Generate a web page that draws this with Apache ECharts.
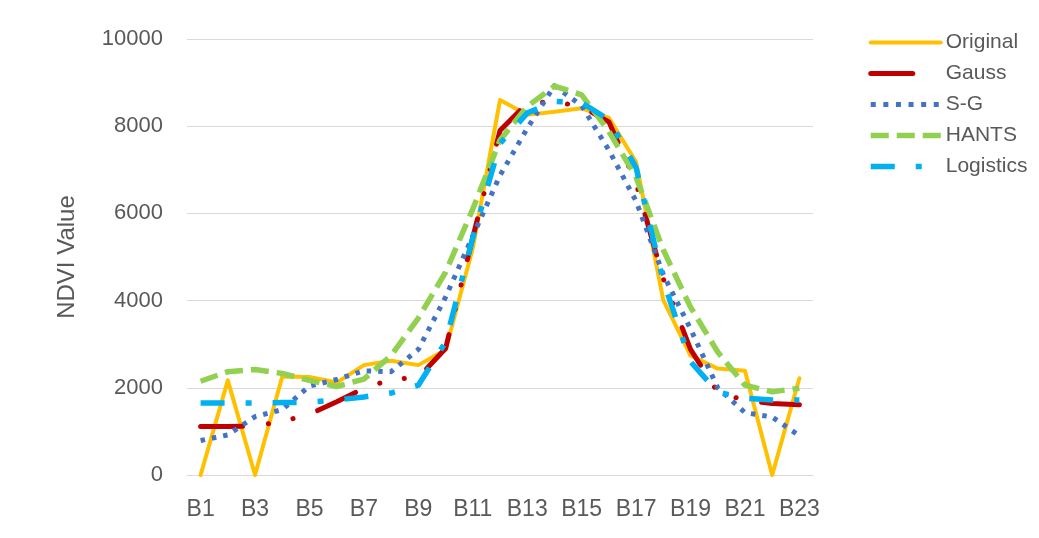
<!DOCTYPE html>
<html lang="en">
<head>
<meta charset="UTF-8">
<title>NDVI</title>
<script src="https://cdn.jsdelivr.net/npm/echarts@6/dist/echarts.min.js"></script>
<style>
    html, body { margin: 0; padding: 0; background: #fff; }
    #main { width: 1039px; height: 538px; }
</style>
</head>
<body>
<div id="main"></div>
<script>
    // band names on the x axis
    var bands = ['B1','B2','B3','B4','B5','B6','B7','B8','B9','B10','B11','B12',
                 'B13','B14','B15','B16','B17','B18','B19','B20','B21','B22','B23'];
    // NDVI values
    var original  = [0, 2170, 0, 2260, 2250, 2120, 2520, 2620, 2520, 2870, 5200, 8600,
                     8260, 8330, 8410, 8190, 7180, 4010, 2740, 2440, 2390, 0, 2220];
    var gauss     = [1110, 1110, 1120, 1230, 1390, 1680, 1990, 2190, 2240, 2900, 5450, 7900,
                     8530, 8560, 8450, 8100, 6700, 4500, 2880, 1900, 1710, 1640, 1610];
    var sg        = [790, 920, 1340, 1500, 2040, 2190, 2390, 2370, 2880, 4080, 5480, 6870,
                     7950, 8930, 8470, 7450, 6280, 4600, 3350, 2000, 1430, 1330, 900];
    var hants     = [2150, 2370, 2420, 2330, 2170, 2030, 2200, 2740, 3600, 4650, 6100, 7680,
                     8450, 8920, 8720, 7880, 6830, 5160, 3850, 2820, 2060, 1910, 1990];
    var logistics = [1650, 1650, 1650, 1660, 1670, 1720, 1790, 1880, 2060, 3050, 5440, 7600,
                     8300, 8570, 8540, 8150, 7050, 4450, 2600, 1900, 1760, 1720, 1720];
    var yTicks = { min: 0, max: 10000, interval: 2000 };

    var txt = '#595959';
    var font = 'Arial, "Liberation Sans", sans-serif';

    var styles = {
        'Original':  { color: '#FFC000', width: 4,   type: 'solid', cap: 'round' },
        'Gauss':     { color: '#C00000', width: 5,   type: [42, 26, 0.1, 25, 0.1, 26], cap: 'round', legendType: [42, 60] },
        'S-G':       { color: '#4472C4', width: 5,   type: [4.5, 7], cap: 'butt', legendType: [5, 7.6] },
        'HANTS':     { color: '#92D050', width: 5.5, type: [18, 8], cap: 'butt' },
        'Logistics': { color: '#00B0F0', width: 5.5, type: [24, 21, 6, 21], cap: 'butt' }
    };

    function line(name, data) {
        var s = styles[name];
        return {
            name: name, type: 'line', data: data,
            symbol: 'none', smooth: false,
            lineStyle: { color: s.color, width: s.width, type: s.type, cap: s.cap, join: 'round' },
            itemStyle: { color: s.color },
            emphasis: { disabled: true }
        };
    }

    var names = ['Original', 'Gauss', 'S-G', 'HANTS', 'Logistics'];
    var legendData = names.map(function (n) {
        var s = styles[n];
        return {
            name: n,
            itemStyle: { opacity: 0 },
            lineStyle: { color: s.color, width: s.width, type: s.legendType || s.type, cap: s.cap }
        };
    });

    var chart = echarts.init(document.getElementById('main'));
    chart.setOption({
        animation: false,
        backgroundColor: '#fff',
        textStyle: { fontFamily: font },
        grid: { left: 187, right: 226, top: 39, bottom: 63 },
        legend: {
            orient: 'vertical', left: 863, top: 27,
            itemWidth: 70, itemHeight: 14, itemGap: 10,
            itemStyle: { opacity: 0 },
            textStyle: { color: txt, fontSize: 21, fontFamily: font },
            data: legendData
        },
        xAxis: {
            type: 'category', data: bands, boundaryGap: true,
            axisLine: { lineStyle: { color: '#d9d9d9' } },
            axisTick: { show: false },
            axisLabel: { interval: 1, color: txt, fontSize: 23, margin: 23, fontFamily: font }
        },
        yAxis: {
            type: 'value', min: yTicks.min, max: yTicks.max, interval: yTicks.interval,
            name: 'NDVI Value', nameLocation: 'middle', nameRotate: 90, nameGap: 108,
            nameTextStyle: { color: txt, fontSize: 24, fontFamily: font },
            axisLine: { show: false },
            axisTick: { show: false },
            axisLabel: {
                color: txt, fontSize: 22, margin: 24, fontFamily: font,
                formatter: function (v) { return String(v); }
            },
            splitLine: { lineStyle: { color: '#d9d9d9', width: 1 } }
        },
        series: names.map(function (n, i) {
            return line(n, [original, gauss, sg, hants, logistics][i]);
        })
    });
</script>
</body>
</html>
